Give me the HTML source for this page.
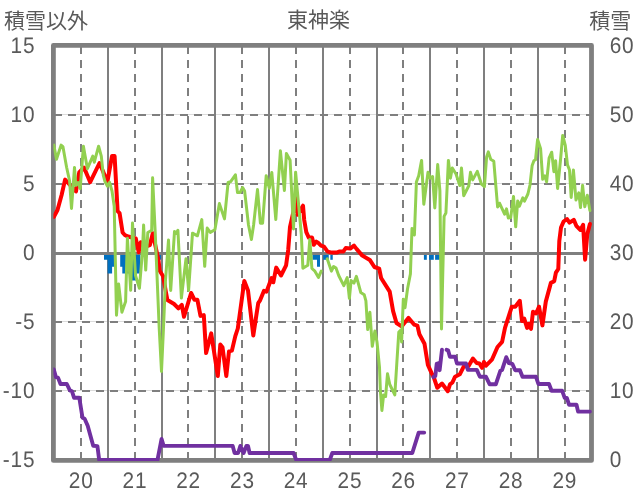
<!DOCTYPE html>
<html lang="ja"><head><meta charset="utf-8"><title>東神楽</title>
<style>
html,body{margin:0;padding:0;background:#fff;}
body{width:636px;height:501px;overflow:hidden;}
svg{display:block;will-change:transform;}
.t{font-family:"Liberation Sans","Noto Sans CJK JP",sans-serif;font-size:21px;fill:#595959;}
.n{font-family:"Liberation Sans","Noto Sans CJK JP",sans-serif;font-size:22.5px;letter-spacing:0.9px;fill:#595959;text-rendering:geometricPrecision;}
</style></head><body>
<svg width="636" height="501" viewBox="0 0 636 501">
<rect x="0" y="0" width="636" height="501" fill="#ffffff"/>
<rect x="53.4" y="45.4" width="538.1" height="415.0" fill="none" stroke="#7f7f7f" stroke-width="4.8" stroke-linejoin="round"/>
<g stroke="#dcdcdc" stroke-width="1" fill="none">
<line x1="56.1" y1="114.50" x2="589.0" y2="114.50"/>
<line x1="56.1" y1="183.50" x2="589.0" y2="183.50"/>
<line x1="56.1" y1="321.50" x2="589.0" y2="321.50"/>
<line x1="56.1" y1="390.50" x2="589.0" y2="390.50"/>
</g>
<g stroke="#7f7f7f" stroke-width="2" fill="none" stroke-dasharray="8 6">
<line x1="54.0" y1="115" x2="591.5" y2="115"/>
<line x1="54.0" y1="184" x2="591.5" y2="184"/>
<line x1="54.0" y1="322" x2="591.5" y2="322"/>
<line x1="54.0" y1="391" x2="591.5" y2="391"/>
<line x1="81" y1="46.0" x2="81" y2="460.1"/>
<line x1="135" y1="46.0" x2="135" y2="460.1"/>
<line x1="188" y1="46.0" x2="188" y2="460.1"/>
<line x1="242" y1="46.0" x2="242" y2="460.1"/>
<line x1="296" y1="46.0" x2="296" y2="460.1"/>
<line x1="350" y1="46.0" x2="350" y2="460.1"/>
<line x1="403" y1="46.0" x2="403" y2="460.1"/>
<line x1="457" y1="46.0" x2="457" y2="460.1"/>
<line x1="511" y1="46.0" x2="511" y2="460.1"/>
<line x1="565" y1="46.0" x2="565" y2="460.1"/>
</g>
<g stroke="#7f7f7f" stroke-width="2" fill="none">
<line x1="108" y1="46.0" x2="108" y2="460.1"/>
<line x1="162" y1="46.0" x2="162" y2="460.1"/>
<line x1="215" y1="46.0" x2="215" y2="460.1"/>
<line x1="269" y1="46.0" x2="269" y2="460.1"/>
<line x1="323" y1="46.0" x2="323" y2="460.1"/>
<line x1="377" y1="46.0" x2="377" y2="460.1"/>
<line x1="430" y1="46.0" x2="430" y2="460.1"/>
<line x1="484" y1="46.0" x2="484" y2="460.1"/>
<line x1="538" y1="46.0" x2="538" y2="460.1"/>
</g>
<defs><clipPath id="pc"><rect x="53.4" y="44" width="538.9" height="416.9"/></clipPath></defs>
<g clip-path="url(#pc)" fill="none" stroke-linejoin="round" stroke-linecap="round">
<g fill="#0070c0" stroke="none">
<path d="M104.00,252.5 L104.00,259.80 L107.60,259.80 L107.60,273.60 L112.10,273.60 L112.10,266.70 L114.30,266.70 L114.30,266.70 L116.00,266.70 L116.00,252.5 Z"/>
<path d="M120.20,252.5 L120.20,266.70 L122.30,266.70 L122.30,273.60 L125.70,273.60 L125.70,273.60 L132.00,273.60 L132.00,280.50 L134.30,280.50 L134.30,280.50 L136.90,280.50 L136.90,273.60 L140.40,273.60 L140.40,252.5 Z"/>
<path d="M158.00,252.5 L158.00,259.80 L161.10,259.80 L161.10,252.5 Z"/>
<path d="M312.40,252.5 L312.40,259.80 L317.00,259.80 L317.00,266.70 L320.00,266.70 L320.00,252.5 Z"/>
<path d="M323.20,252.5 L323.20,259.80 L328.75,259.80 L328.75,252.5 Z"/>
<path d="M330.35,252.5 L330.35,259.80 L332.75,259.80 L332.75,252.5 Z"/>
<path d="M423.90,252.5 L423.90,259.80 L426.80,259.80 L426.80,252.5 Z"/>
<path d="M429.00,252.5 L429.00,259.80 L433.80,259.80 L433.80,252.5 Z"/>
<path d="M435.10,252.5 L435.10,259.80 L441.00,259.80 L441.00,252.5 Z"/>
</g>
<line x1="54.1" y1="253.50" x2="591.5" y2="253.50" stroke="#7f7f7f" stroke-width="2.9" stroke-linecap="butt"/>
<polyline stroke="#ff0000" stroke-width="4" points="53.9,216.8 57.5,210.0 61.6,195.0 65.1,179.6 76.0,191.5 79.2,172.5 84.0,167.5 90.2,182.2 99.5,163.0 107.4,181.8 112.0,156.1 114.6,156.1 117.6,211.2 119.6,213.2 122.6,232.5 124.8,235.0 127.2,236.3 135.8,238.5 138.7,252.2 140.7,242.3 145.0,247.0 149.8,245.2 152.8,233.3 158.6,260.9 159.7,270.8 163.1,276.2 165.8,291.5 167.4,300.0 174.1,304.0 178.4,308.3 181.8,304.9 184.0,316.8 191.1,293.0 194.5,299.8 197.4,299.8 200.5,315.9 203.8,315.1 206.1,353.1 211.2,333.4 217.8,376.0 220.3,344.6 222.5,347.2 226.3,376.0 229.0,351.4 231.9,350.6 235.3,336.1 237.8,328.5 244.3,281.1 248.0,290.5 253.3,335.4 258.2,303.2 259.9,300.7 264.0,290.8 266.5,291.6 271.6,278.0 273.3,282.3 276.2,267.6 281.0,275.5 286.1,265.3 288.2,250.0 290.0,227.0 296.5,198.3 297.6,214.8 303.0,205.7 304.2,220.0 306.3,232.1 308.8,237.6 312.1,237.6 313.8,244.7 316.3,241.6 318.0,242.6 321.0,245.6 324.0,246.6 327.6,251.6 332.1,252.6 336.6,252.6 339.1,251.6 343.2,251.6 345.7,248.1 350.2,248.6 354.0,245.6 356.7,249.1 362.3,255.6 369.8,259.9 374.4,267.0 379.2,268.7 381.1,278.0 389.7,291.6 393.1,311.1 396.5,323.0 401.6,326.4 408.4,317.9 414.3,324.7 417.4,325.6 419.4,334.3 424.5,343.7 427.9,365.0 431.5,372.9 433.7,377.0 437.3,387.8 442.0,383.5 447.8,391.2 450.0,384.4 452.4,382.5 455.1,376.7 459.8,374.3 463.7,366.6 468.6,366.0 472.9,358.6 476.7,363.0 479.4,363.5 482.0,367.8 483.9,362.0 486.0,365.7 491.9,359.7 497.5,347.0 502.1,341.9 505.0,327.9 511.8,306.7 515.2,306.7 519.8,300.8 522.0,321.1 524.2,318.6 527.1,327.9 528.8,323.7 531.0,328.8 533.0,311.8 536.1,313.5 539.0,306.7 542.4,325.4 545.8,301.6 550.9,282.9 554.2,281.2 555.9,272.7 558.3,269.0 559.3,241.0 561.0,227.5 563.6,221.5 567.0,219.0 569.5,222.7 573.8,219.8 576.3,225.8 580.5,230.0 583.1,224.9 585.1,259.7 587.3,234.2 589.9,224.0"/>
<polyline stroke="#92d050" stroke-width="3" points="53.8,145.1 56.5,159.2 61.1,145.1 62.9,146.6 66.6,167.2 69.6,181.0 71.5,208.4 74.5,167.4 75.8,185.3 78.0,182.5 80.2,188.6 83.4,146.3 87.4,168.7 92.8,156.1 94.3,162.2 98.6,146.2 101.3,156.1 103.3,175.3 105.0,181.5 107.4,186.1 109.6,182.3 112.0,191.0 114.2,206.2 116.5,315.2 118.6,284.0 121.9,312.2 125.6,301.6 127.4,238.2 130.7,290.3 132.5,223.0 135.5,275.5 139.4,288.3 142.4,252.0 143.6,225.0 145.7,270.1 147.8,232.5 151.7,230.4 152.6,177.7 155.2,232.0 159.2,328.0 161.5,371.5 163.4,330.0 165.5,280.0 168.5,240.0 170.7,290.5 174.5,231.5 176.2,233.5 177.9,230.3 181.4,298.1 186.0,258.7 188.6,290.5 192.5,233.2 197.4,235.8 201.8,219.6 204.7,266.3 207.2,228.1 210.3,232.4 214.9,229.8 219.4,203.6 224.5,218.9 228.1,182.5 230.7,181.6 235.4,174.8 237.5,192.6 240.0,192.6 242.6,187.5 244.6,190.9 248.5,225.0 251.4,239.5 253.6,225.0 257.5,189.6 260.4,223.2 262.6,223.2 266.2,175.7 269.3,188.2 271.8,172.5 275.8,219.5 280.4,150.8 284.4,190.5 286.4,153.4 290.1,160.2 293.5,228.9 295.6,172.2 301.3,234.0 302.9,268.3 307.8,265.3 309.8,239.6 311.9,268.5 314.9,271.2 318.5,277.4 321.2,271.1"/>
<polyline stroke="#92d050" stroke-width="3" points="327.2,258.8 331.4,271.1 333.6,266.5 336.0,268.1 338.7,275.5 343.8,285.7 347.2,277.6 349.4,298.4 351.1,280.6 354.0,283.1 356.4,276.3 360.8,292.5 364.2,294.7 365.9,300.9 367.7,329.6 369.9,312.3 372.3,346.3 374.9,330.9 377.0,342.0 379.5,367.5 380.4,391.0 381.9,410.5 383.6,395.0 385.6,396.5 387.5,373.8 389.8,384.5 394.8,394.9 396.7,365.0 398.8,332.0 400.8,330.1 401.6,342.0 403.3,299.2 405.0,307.7 407.5,289.0 410.4,274.0 412.0,228.5 414.4,235.0 416.4,182.0 418.7,175.7 421.6,160.4 423.8,204.2 428.0,172.3 430.2,178.2 432.6,176.5 434.8,207.9 437.7,164.6 439.9,190.9 441.5,329.0 444.1,216.4 445.9,213.0 448.4,160.4 450.4,178.2 452.3,168.0 456.0,174.0 459.8,185.5 461.5,168.0 463.7,195.7 468.8,185.8 470.5,172.3 472.7,179.9 477.3,171.4 481.5,184.2 484.4,186.7 486.6,157.0 488.3,151.9 490.7,159.2 493.8,161.3 497.6,207.0 499.5,203.2 504.6,214.2 506.5,208.9 508.3,217.9 510.7,217.6 513.5,196.4 515.7,226.8 517.7,200.9 519.4,206.2 522.8,197.8 524.5,201.1 527.9,194.0 530.0,185.0 532.1,165.8 533.9,160.7 535.5,159.8 537.6,139.4 540.6,148.8 542.7,179.3 544.9,175.9 546.6,181.9 549.1,158.1 551.7,152.2 553.9,171.7 555.6,160.7 557.6,188.5 560.5,160.0 562.7,135.5 565.3,145.4 567.5,164.9 569.5,170.0 571.2,197.5 573.4,170.0 576.0,200.0 578.8,192.8 580.5,207.5 582.6,185.3 584.8,206.8 587.3,195.3 589.9,210.5"/>
<polyline stroke="#7030a0" stroke-width="3.9" points="53.8,369.4 55.9,377.1 58.0,377.6 60.5,384.0 66.8,384.0 69.9,390.4 72.0,391.3 74.1,397.8 79.3,397.8 82.5,417.7 84.6,418.7 87.7,425.8 93.2,445.8 97.4,446.1 99.2,459.9 157.5,459.9 161.6,439.0 163.6,445.9 232.7,445.9 234.6,453.0 238.1,453.0 240.4,445.9 243.6,453.0 246.4,445.9 248.0,445.9 249.6,453.0 293.6,453.0 296.2,459.9 329.8,459.9 332.3,453.0 412.3,453.0 418.7,432.6 424.2,432.6"/>
<polyline stroke="#7030a0" stroke-width="3.9" points="433.4,377.1 435.3,376.1 436.7,363.9 438.2,363.3 439.6,370.2 442.0,349.8"/>
<polyline stroke="#7030a0" stroke-width="3.9" points="446.6,349.8 448.1,350.3 449.9,356.7 455.1,356.7 457.0,363.5 466.0,363.5 467.9,369.9 476.8,369.9 479.9,376.8 486.0,376.8 489.7,384.3 495.8,384.3 500.4,370.7 502.1,369.9 506.3,357.2 508.9,363.1 512.3,363.9 515.2,370.2 519.9,370.2 522.5,376.8 536.0,376.8 538.4,384.0 549.0,384.0 551.6,390.7 562.1,390.7 564.7,397.8 566.9,398.0 569.0,404.7 576.5,404.7 578.1,411.6 589.9,411.6"/>
</g>
<text class="t" x="4" y="28">積雪以外</text>
<text class="t" x="318.6" y="27.3" text-anchor="middle">東神楽</text>
<text class="t" x="631.3" y="27.6" text-anchor="end">積雪</text>
<text class="n" transform="translate(35.4,52.7) scale(0.925,1)" text-anchor="end">15</text>
<text class="n" transform="translate(35.4,121.7) scale(0.925,1)" text-anchor="end">10</text>
<text class="n" transform="translate(35.4,190.7) scale(0.925,1)" text-anchor="end">5</text>
<text class="n" transform="translate(35.4,259.8) scale(0.925,1)" text-anchor="end">0</text>
<text class="n" transform="translate(35.4,328.8) scale(0.925,1)" text-anchor="end">-5</text>
<text class="n" transform="translate(35.4,397.8) scale(0.925,1)" text-anchor="end">-10</text>
<text class="n" transform="translate(35.4,466.8) scale(0.925,1)" text-anchor="end">-15</text>
<text class="n" transform="translate(609.7,52.7) scale(0.925,1)">60</text>
<text class="n" transform="translate(609.7,121.7) scale(0.925,1)">50</text>
<text class="n" transform="translate(609.7,190.7) scale(0.925,1)">40</text>
<text class="n" transform="translate(609.7,259.8) scale(0.925,1)">30</text>
<text class="n" transform="translate(609.7,328.8) scale(0.925,1)">20</text>
<text class="n" transform="translate(609.7,397.8) scale(0.925,1)">10</text>
<text class="n" transform="translate(609.7,466.8) scale(0.925,1)">0</text>
<text class="n" transform="translate(81.2,488.0) scale(0.925,1)" text-anchor="middle">20</text>
<text class="n" transform="translate(134.9,488.0) scale(0.925,1)" text-anchor="middle">21</text>
<text class="n" transform="translate(188.6,488.0) scale(0.925,1)" text-anchor="middle">22</text>
<text class="n" transform="translate(242.4,488.0) scale(0.925,1)" text-anchor="middle">23</text>
<text class="n" transform="translate(296.1,488.0) scale(0.925,1)" text-anchor="middle">24</text>
<text class="n" transform="translate(349.9,488.0) scale(0.925,1)" text-anchor="middle">25</text>
<text class="n" transform="translate(403.6,488.0) scale(0.925,1)" text-anchor="middle">26</text>
<text class="n" transform="translate(457.3,488.0) scale(0.925,1)" text-anchor="middle">27</text>
<text class="n" transform="translate(511.1,488.0) scale(0.925,1)" text-anchor="middle">28</text>
<text class="n" transform="translate(564.8,488.0) scale(0.925,1)" text-anchor="middle">29</text>
</svg>
</body></html>
